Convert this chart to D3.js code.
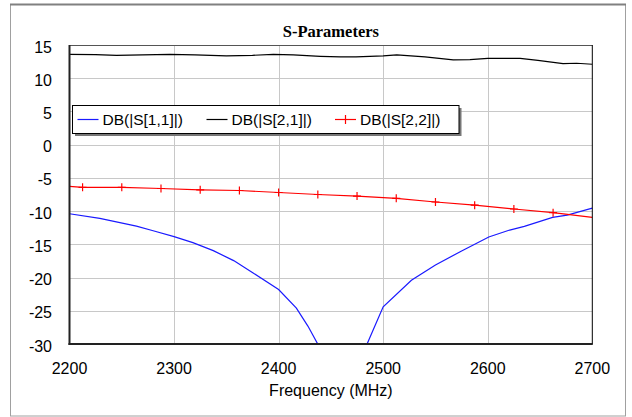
<html>
<script src="https://d3js.org/d3.v7.min.js"></script>
<head>
    <meta charset="UTF-8">
    <style>
        body { margin: 0; background: #fff; }
        svg { display: block; }
        text { font-family: "Liberation Sans", Arial, sans-serif; fill: #000; }
    </style>
</head>
<body>
<svg width="632" height="417"></svg>
<script>
    // S11 (blue) - frequency in MHz, magnitude in dB
    const s11Freq = [2200, 2229, 2264, 2280, 2300, 2318, 2337.5, 2357, 2376, 2400, 2417, 2428, 2437.4,
                     2450, 2461, 2473, 2484.6, 2500, 2527, 2550, 2575, 2601, 2621, 2635, 2662, 2676, 2700];
    const s11Db   = [-10.4, -11.1, -12.25, -12.95, -13.85, -14.75, -15.95, -17.45, -19.35, -21.8, -24.6, -27.3, -30,
                     -36, -48, -36, -30, -24.4, -20.4, -18.1, -16.0, -13.9, -12.85, -12.3, -10.95, -10.6, -9.55];

    // S21 (black)
    const s21Freq = [2200, 2225, 2245, 2270, 2296, 2320, 2350, 2375, 2395, 2414, 2440, 2459, 2474, 2500,
                     2513, 2540, 2567, 2583, 2600, 2631, 2648, 2672, 2685, 2700];
    const s21Db   = [13.6, 13.55, 13.45, 13.5, 13.6, 13.5, 13.35, 13.45, 13.6, 13.5, 13.3, 13.2, 13.2, 13.35,
                     13.5, 13.2, 12.75, 12.8, 13.0, 13.0, 12.7, 12.2, 12.25, 12.1];

    // S22 (red, with + markers)
    const s22Freq = [2200, 2212.5, 2250, 2287.5, 2325, 2362.5, 2400, 2437.5, 2475, 2512.5, 2550, 2587.5, 2625, 2662.5, 2700];
    const s22Db   = [-6.27, -6.42, -6.42, -6.6, -6.8, -6.9, -7.2, -7.5, -7.73, -8.07, -8.63, -9.1, -9.68, -10.24, -10.93];

    const xTicks = [2200, 2300, 2400, 2500, 2600, 2700];
    const yTicks = [-30, -25, -20, -15, -10, -5, 0, 5, 10, 15];
    const legendLabels = ["DB(|S[1,1]|)", "DB(|S[2,1]|)", "DB(|S[2,2]|)"];
    const seriesColors = ["#1a1aff", "#000000", "#ff0000"];

    const svg = d3.select("svg");
    const pLeft = 69.5, pRight = 592.3, pTop = 45, pBottom = 344;

    const x = d3.scaleLinear().domain([2200, 2700]).range([pLeft, pRight]);
    const y = d3.scaleLinear().domain([-30, 15]).range([pBottom, pTop]);

    // outer frame
    svg.append("rect")
        .attr("x", 10.5).attr("y", 4.5).attr("width", 615).attr("height", 411.5)
        .attr("fill", "#fff").attr("stroke", "#a0a0a0");
    svg.append("line")
        .attr("x1", 10).attr("x2", 626).attr("y1", 4.5).attr("y2", 4.5)
        .attr("stroke", "#808080").attr("stroke-width", 2);

    // title
    svg.append("text")
        .attr("x", (pLeft + pRight) / 2).attr("y", 37)
        .attr("text-anchor", "middle")
        .style("font-family", "'Liberation Serif', 'Times New Roman', serif")
        .style("font-weight", "bold").style("font-size", "16.5px")
        .text("S-Parameters");

    // grid
    svg.append("g").selectAll("line").data(xTicks.slice(1, -1)).enter().append("line")
        .attr("x1", d => Math.round(x(d)) + 0.5).attr("x2", d => Math.round(x(d)) + 0.5)
        .attr("y1", pTop).attr("y2", pBottom)
        .attr("stroke", "#c8c8c8");
    svg.append("g").selectAll("line").data(yTicks.slice(1, -1)).enter().append("line")
        .attr("x1", pLeft).attr("x2", pRight)
        .attr("y1", d => Math.round(y(d)) + 0.5).attr("y2", d => Math.round(y(d)) + 0.5)
        .attr("stroke", "#c8c8c8");

    // tick labels
    svg.append("g").selectAll("text").data(yTicks).enter().append("text")
        .attr("x", 52).attr("y", d => y(d) + 7.5)
        .attr("text-anchor", "end").style("font-size", "16px")
        .text(d => d);
    svg.append("g").selectAll("text").data(xTicks).enter().append("text")
        .attr("x", d => x(d)).attr("y", 374)
        .attr("text-anchor", "middle").style("font-size", "16px")
        .text(d => d);
    svg.append("text")
        .attr("x", (pLeft + pRight) / 2).attr("y", 396)
        .attr("text-anchor", "middle").style("font-size", "16px")
        .text("Frequency (MHz)");

    // clip
    svg.append("clipPath").attr("id", "plotclip")
        .append("rect").attr("x", pLeft).attr("y", pTop).attr("width", pRight - pLeft).attr("height", pBottom - pTop);

    const plot = svg.append("g").attr("clip-path", "url(#plotclip)");
    const line = d3.line().x(d => x(d[0])).y(d => y(d[1]));

    const series = [
        d3.zip(s11Freq, s11Db),
        d3.zip(s21Freq, s21Db),
        d3.zip(s22Freq, s22Db)
    ];
    series.forEach((pts, i) => {
        plot.append("path")
            .datum(pts)
            .attr("d", line)
            .attr("fill", "none")
            .attr("stroke", seriesColors[i])
            .attr("stroke-width", 1.2);
    });

    // + markers on S22
    const markers = series[2].slice(1, -1);
    plot.append("g").selectAll("path").data(markers).enter().append("path")
        .attr("d", d => `M${x(d[0]) - 4},${y(d[1])}H${x(d[0]) + 4}M${x(d[0])},${y(d[1]) - 4}V${y(d[1]) + 4}`)
        .attr("stroke", "#ff0000").attr("stroke-width", 1.2).attr("fill", "none");

    // plot frame
    svg.append("line").attr("x1", pLeft).attr("x2", pRight).attr("y1", pTop + 0.5).attr("y2", pTop + 0.5)
        .attr("stroke", "#555");
    svg.append("line").attr("x1", pRight).attr("x2", pRight).attr("y1", pTop).attr("y2", pBottom)
        .attr("stroke", "#000");
    svg.append("line").attr("x1", pLeft).attr("x2", pLeft).attr("y1", pTop).attr("y2", pBottom + 1)
        .attr("stroke", "#222").attr("stroke-width", 2);
    svg.append("line").attr("x1", pLeft - 1).attr("x2", pRight + 0.5).attr("y1", pBottom).attr("y2", pBottom)
        .attr("stroke", "#222").attr("stroke-width", 2);

    // legend
    const lg = svg.append("g");
    lg.append("rect").attr("x", 75).attr("y", 108).attr("width", 386.5).attr("height", 28)
        .attr("fill", "#777");
    lg.append("rect").attr("x", 72.5).attr("y", 105.5).attr("width", 386.5).attr("height", 28)
        .attr("fill", "#fff").attr("stroke", "#000");
    const entryX = [77.5, 206.5, 335];
    legendLabels.forEach((lab, i) => {
        const ex = entryX[i], ey = 119.5;
        lg.append("line").attr("x1", ex).attr("x2", ex + 21).attr("y1", ey).attr("y2", ey)
            .attr("stroke", seriesColors[i]).attr("stroke-width", 1.2);
        if (i === 2) {
            lg.append("line").attr("x1", ex + 10.5).attr("x2", ex + 10.5).attr("y1", ey - 4.5).attr("y2", ey + 4.5)
                .attr("stroke", seriesColors[i]).attr("stroke-width", 1.2);
        }
        lg.append("text").attr("x", ex + 25).attr("y", ey + 5.5)
            .style("font-size", "15.5px")
            .text(lab);
    });
</script>
</body>
</html>
